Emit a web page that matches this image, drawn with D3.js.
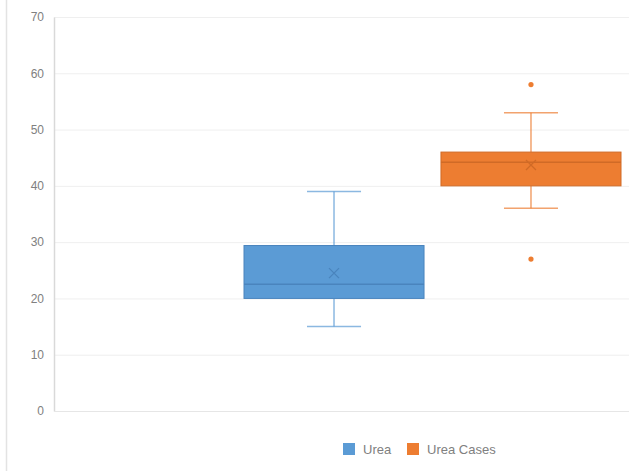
<!DOCTYPE html>
<html>
<head>
<meta charset="utf-8">
<script src="https://cdn.jsdelivr.net/npm/d3@7/dist/d3.min.js"></script>
<style>
  html, body { margin: 0; padding: 0; background: #fff; }
  svg { display: block; font-family: "Liberation Sans", Arial, sans-serif; }
</style>
</head>
<body>
<svg id="chart" width="629" height="471"></svg>
<script>
// Series names and colours
const seriesNames = ["Urea", "Urea Cases"];
const seriesColors = ["#5B9BD5", "#ED7D31"];
const seriesStroke = ["#4A84BD", "#D06A26"];

// Five-number summaries per series
const whiskerLow  = [15, 36];
const q1          = [20, 40];
const median      = [22.5, 44.2];
const q3          = [29.4, 46];
const whiskerHigh = [39, 53];
const mean        = [24.5, 43.7];

// Outlier points, one list per series
const outliers = [[], [58, 27]];

// Y axis ticks
const yTicks = [0, 10, 20, 30, 40, 50, 60, 70];

const svg = d3.select("#chart");
const W = 629, H = 471;
const plotLeft = 54, plotTop = 17, plotBottom = 411;

const y = d3.scaleLinear().domain([0, 70]).range([plotBottom, plotTop]);
const x = d3.scaleBand().domain(seriesNames).range([244, 621]).paddingInner(0.086);

// Outer left border of the chart frame
svg.append("line")
  .attr("x1", 6.5).attr("x2", 6.5).attr("y1", 0).attr("y2", H)
  .attr("stroke", "#e3e3e3").attr("stroke-width", 1.5);

// Horizontal gridlines
svg.append("g").selectAll("line").data(yTicks.filter(d => d > 0)).join("line")
  .attr("x1", plotLeft).attr("x2", W)
  .attr("y1", d => y(d) + 0.5).attr("y2", d => y(d) + 0.5)
  .attr("stroke", "#efefef").attr("stroke-width", 1);

// Y axis
const yAxis = d3.axisLeft(y).tickValues(yTicks).tickSize(0).tickPadding(10);
const gy = svg.append("g").attr("transform", `translate(${plotLeft},0)`).call(yAxis);
gy.select(".domain").attr("stroke", "#d9d9d9").attr("stroke-width", 1.5);
gy.selectAll("text").attr("fill", "#808080").style("font-size", "12px")
  .attr("font-family", "Liberation Sans, Arial, sans-serif");

// Baseline at 0
svg.append("line")
  .attr("x1", plotLeft).attr("x2", W).attr("y1", y(0) + 0.5).attr("y2", y(0) + 0.5)
  .attr("stroke", "#e6e6e6").attr("stroke-width", 1);

// Box plots
seriesNames.forEach((name, i) => {
  const g = svg.append("g");
  const x0 = x(name), bw = x.bandwidth(), cx = x0 + bw / 2;
  const capW = bw * 0.3;
  const col = seriesColors[i], dark = seriesStroke[i];

  // whiskers
  g.append("line").attr("x1", cx).attr("x2", cx)
    .attr("y1", y(q3[i])).attr("y2", y(whiskerHigh[i]))
    .attr("stroke", col).attr("stroke-width", 1.5).attr("opacity", 0.7);
  g.append("line").attr("x1", cx).attr("x2", cx)
    .attr("y1", y(q1[i])).attr("y2", y(whiskerLow[i]))
    .attr("stroke", col).attr("stroke-width", 1.5).attr("opacity", 0.7);
  [whiskerHigh[i], whiskerLow[i]].forEach(v => {
    g.append("line").attr("x1", cx - capW / 2).attr("x2", cx + capW / 2)
      .attr("y1", y(v)).attr("y2", y(v))
      .attr("stroke", col).attr("stroke-width", 1.5).attr("opacity", 0.7);
  });

  // box
  g.append("rect")
    .attr("x", x0).attr("y", y(q3[i]))
    .attr("width", bw).attr("height", y(q1[i]) - y(q3[i]))
    .attr("fill", col).attr("stroke", dark).attr("stroke-width", 1);

  // median
  g.append("line").attr("x1", x0).attr("x2", x0 + bw)
    .attr("y1", y(median[i])).attr("y2", y(median[i]))
    .attr("stroke", dark).attr("stroke-width", 1.5);

  // mean marker
  const m = 5, my = y(mean[i]);
  g.append("path")
    .attr("d", `M${cx - m},${my - m}L${cx + m},${my + m}M${cx - m},${my + m}L${cx + m},${my - m}`)
    .attr("stroke", dark).attr("stroke-width", 1.3).attr("fill", "none");

  // outliers
  g.selectAll("circle").data(outliers[i]).join("circle")
    .attr("cx", cx).attr("cy", d => y(d)).attr("r", 2.6)
    .attr("fill", col);
});

// Legend
const legend = svg.append("g");
const legendItems = [
  { name: seriesNames[0], color: seriesColors[0], x: 343 },
  { name: seriesNames[1], color: seriesColors[1], x: 407 }
];
legendItems.forEach((d, i) => {
  legend.append("rect").attr("x", d.x).attr("y", 443).attr("width", 12).attr("height", 12)
    .attr("fill", d.color);
  legend.append("text").attr("x", d.x + 20).attr("y", 454)
    .attr("fill", "#808080").style("font-size", "13px").text(d.name);
});
</script>
</body>
</html>
